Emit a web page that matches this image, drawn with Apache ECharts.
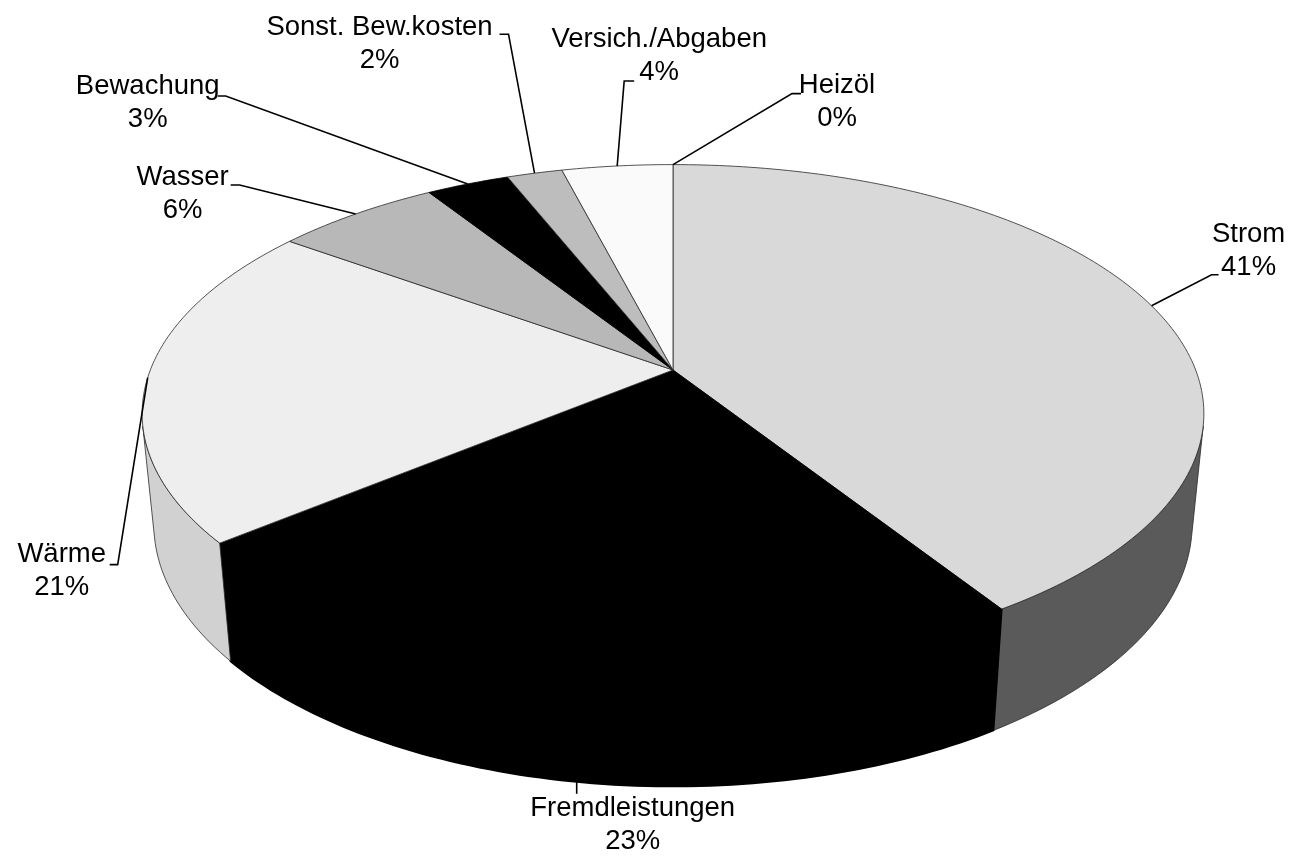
<!DOCTYPE html>
<html>
<head>
<meta charset="utf-8">
<script src="https://cdn.jsdelivr.net/npm/echarts@6/dist/echarts.min.js"></script>
<style>
  html, body { margin: 0; padding: 0; background: #fff; }
  #chart { width: 1302px; height: 856px; }
</style>
</head>
<body>
<div id="chart"></div>
<script>
// Kostenanteile
const categories = ['Strom', 'Fremdleistungen', 'Wärme', 'Wasser', 'Bewachung', 'Sonst. Bew.kosten', 'Versich./Abgaben', 'Heizöl'];
const values = [41, 23, 21, 6, 3, 2, 4, 0];

// styles, not data
const topColors = ['#d9d9d9', '#000000', '#eeeeee', '#b8b8b8', '#000000', '#bdbdbd', '#fafafa', '#e0e0e0'];
// label placement relative to the anchor on the rim: knee of the leader line and text centre
const labelLayout = [
  { knee: [60, -31], tail: 7, text: [97, -55] },
  { knee: [0, 12], tail: 0, text: [56, 43] },
  { knee: [-30, 187], tail: -8, text: [-86, 193] },
  { knee: [-116, -29], tail: -9, text: [-173, -20] },
  { knee: [-242, -88], tail: -8, text: [-320, -81] },
  { knee: [-26, -139], tail: -9, text: [-155, -129] },
  { knee: [7, -85], tail: 10, text: [42, -110] },
  { knee: [119, -71], tail: 9, text: [164, -63] }
];

// simple perspective camera for the 3d pie
const view = { cx: 673, cy: 370, f: 2650, dist: 5.07, tilt: 27.5 * Math.PI / 180, depth: 0.24 };
const total = values.reduce((s, v) => s + v, 0);
const starts = [];
values.reduce((acc, v, i) => { starts[i] = acc; return acc + v; }, 0);

function project(a, r, h) {
  const x = r * Math.sin(a), z = r * Math.cos(a);
  const d = view.dist + z * Math.cos(view.tilt) - h * Math.sin(view.tilt);
  return [view.cx + view.f * x / d, view.cy - view.f * (z * Math.sin(view.tilt) + h * Math.cos(view.tilt)) / d];
}

// outer wall faces the camera where cos(a) < -1/(dist*cos(tilt))
const visLimit = Math.acos(-1 / (view.dist * Math.cos(view.tilt)));
const visStart = visLimit, visEnd = 2 * Math.PI - visLimit;

function arc(a0, a1, h) {
  const pts = [];
  const n = Math.max(2, Math.ceil((a1 - a0) / (Math.PI / 180)));
  for (let k = 0; k <= n; k++) pts.push(project(a0 + (a1 - a0) * k / n, 1, h));
  return pts;
}

function shade(hex, f) {
  const c = parseInt(hex.slice(1), 16);
  const r = Math.round(((c >> 16) & 255) * f), g = Math.round(((c >> 8) & 255) * f), b = Math.round((c & 255) * f);
  return 'rgb(' + r + ',' + g + ',' + b + ')';
}

function renderSlice(params, api) {
  const i = params.dataIndex;
  const a0 = starts[i] / total * 2 * Math.PI;
  const a1 = (starts[i] + values[i]) / total * 2 * Math.PI;
  const mid = (a0 + a1) / 2;
  const dark = topColors[i] === '#000000';
  const edge = dark ? '#000' : '#2a2a2a';
  const lw = dark ? 2 : 0.8;
  const children = [];

  // wall
  const s = Math.max(a0, visStart), e = Math.min(a1, visEnd);
  if (e > s) {
    const pts = arc(s, e, 0).concat(arc(s, e, -view.depth).reverse());
    const m = (s + e) / 2;
    children.push({
      type: 'polygon', z2: 1,
      shape: { points: pts },
      style: { fill: shade(topColors[i], 0.635 - 0.27 * Math.sin(m)), stroke: edge, lineWidth: lw }
    });
  }
  // top
  if (a1 > a0) {
    const pts = [project(0, 0, 0)].concat(arc(a0, a1, 0));
    children.push({
      type: 'polygon', z2: 10,
      shape: { points: pts },
      style: { fill: topColors[i], stroke: edge, lineWidth: dark ? 0.8 : lw }
    });
  }
  // label with leader line
  const onWall = mid > visStart && mid < visEnd;
  const anchor = project(mid, 1, onWall ? -view.depth : 0);
  const lay = labelLayout[i];
  const knee = [anchor[0] + lay.knee[0], anchor[1] + lay.knee[1]];
  children.push({
    type: 'polyline', z2: 20,
    shape: { points: [anchor, knee, [knee[0] + lay.tail, knee[1]]] },
    style: { stroke: '#000', lineWidth: 1.6, fill: null }
  });
  children.push({
    type: 'text', z2: 20,
    style: {
      text: categories[i] + '\n' + Math.round(values[i] / total * 100) + '%',
      x: anchor[0] + lay.text[0], y: anchor[1] + lay.text[1],
      align: 'center', verticalAlign: 'middle',
      font: '27.5px "Liberation Sans", Arial, sans-serif',
      lineHeight: 33, fill: '#000'
    }
  });
  return { type: 'group', children: children };
}

const chart = echarts.init(document.getElementById('chart'));
chart.setOption({
  backgroundColor: '#fff',
  animation: false,
  series: [{
    type: 'custom',
    coordinateSystem: 'none',
    renderItem: renderSlice,
    data: values.map((v, i) => ({ name: categories[i], value: v }))
  }]
});
</script>
</body>
</html>
